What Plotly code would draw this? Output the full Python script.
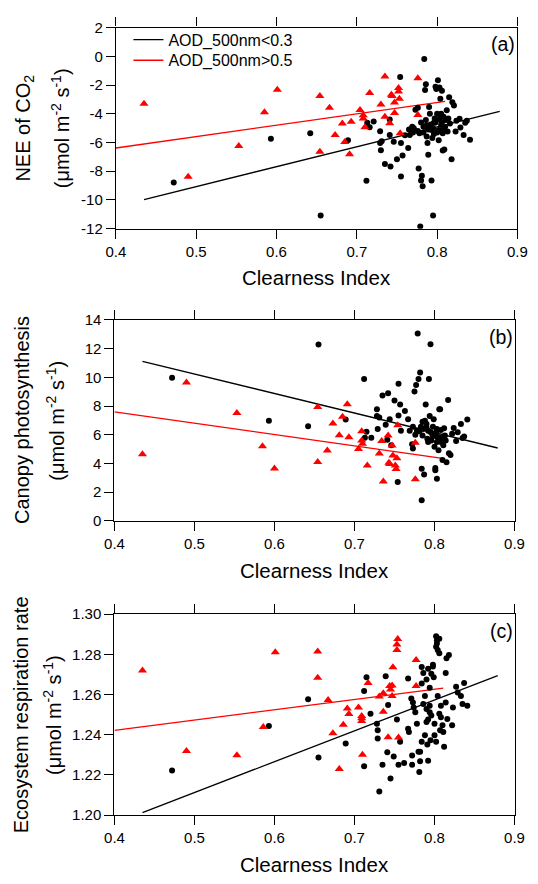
import plotly.graph_objects as go

# ---------------- data ----------------
# Panel (a) NEE of CO2
a_blk_x = [0.472, 0.593, 0.642, 0.655, 0.689, 0.712, 0.713, 0.716, 0.721, 0.729,
           0.730, 0.731, 0.729, 0.735, 0.741, 0.741, 0.742, 0.746, 0.750, 0.754,
           0.755, 0.755, 0.757, 0.760, 0.764, 0.766, 0.769, 0.771, 0.773, 0.776,
           0.777, 0.778, 0.779, 0.780, 0.781, 0.782, 0.783, 0.784, 0.785, 0.786,
           0.786, 0.787, 0.788, 0.789, 0.790, 0.790, 0.791, 0.793, 0.793, 0.794,
           0.795, 0.796, 0.797, 0.798, 0.799, 0.800, 0.801, 0.802, 0.802, 0.803,
           0.804, 0.804, 0.805, 0.806, 0.806, 0.807, 0.807, 0.808, 0.809, 0.810,
           0.811, 0.812, 0.813, 0.814, 0.815, 0.816, 0.818, 0.819, 0.821, 0.823,
           0.824, 0.828, 0.829, 0.833, 0.835, 0.837, 0.841,
           0.792, 0.795, 0.798, 0.800, 0.803, 0.787, 0.783, 0.789, 0.796, 0.805,
           0.808, 0.776, 0.780, 0.770, 0.765]
a_blk_y = [-8.79, -5.74, -5.35, -11.08, -5.85, -8.67, -4.62, -4.94, -4.53, -6.03,
           -6.53, -5.92, -5.21, -7.49, -4.40, -5.47, -7.67, -5.94, -7.17, -1.44,
           -6.03, -8.36, -6.90, -5.49, -6.38, -5.47, -4.90, -5.01, -3.71, -3.58,
           -7.81, -5.35, -11.84, -8.65, -8.31, -9.04, -4.90, -0.19, -2.35, -1.94,
           -4.44, -5.58, -6.03, -6.85, -3.53, -4.90, -3.99, -8.65, -5.12, -5.69,
           -11.08, -4.62, -4.33, -2.12, -2.28, -3.99, -1.67, -5.12, -5.85, -2.17,
           -2.96, -4.21, -4.78, -4.58, -2.39, -5.35, -6.56, -5.12, -6.49, -4.90,
           -4.44, -3.76, -5.24, -4.33, -2.85, -4.67, -7.17, -3.19, -3.42, -5.24,
           -4.49, -4.35, -4.96, -5.47, -4.62, -4.49, -5.81,
           -4.75, -5.00, -4.60, -5.30, -4.40, -4.80, -5.30, -5.10, -5.40, -4.00,
           -4.20, -5.20, -4.60, -5.30, -5.10]
a_red_x = [0.435, 0.490, 0.553, 0.585, 0.601, 0.654, 0.654, 0.666, 0.673, 0.682,
           0.685, 0.691, 0.693, 0.704, 0.708, 0.708, 0.710, 0.716, 0.730, 0.735,
           0.735, 0.741, 0.743, 0.744, 0.747, 0.747, 0.752, 0.752, 0.753, 0.754,
           0.776, 0.776]
a_red_y = [-3.30, -8.38, -6.24, -3.90, -2.32, -2.76, -6.65, -3.58, -5.47, -4.67,
           -5.97, -6.81, -4.55, -3.74, -4.10, -4.33, -4.94, -2.55, -3.35, -4.21,
           -1.41, -4.65, -2.67, -2.76, -3.21, -3.94, -2.21, -2.44, -2.96, -5.35,
           -1.53, -4.08]
a_fit_blk_x = [0.435, 0.878]
a_fit_blk_y = [-9.97, -3.83]
a_fit_red_x = [0.400, 0.810]
a_fit_red_y = [-6.38, -3.14]

# Panel (b) Canopy photosynthesis
b_blk_x = [0.472, 0.593, 0.642, 0.655, 0.689, 0.712, 0.713, 0.715, 0.721, 0.728,
           0.729, 0.728, 0.731, 0.735, 0.739, 0.741, 0.742, 0.744, 0.746, 0.750,
           0.754, 0.755, 0.755, 0.757, 0.758, 0.763, 0.767, 0.769, 0.772, 0.773,
           0.773, 0.775, 0.777, 0.779, 0.780, 0.781, 0.782, 0.783, 0.784, 0.784,
           0.785, 0.786, 0.787, 0.788, 0.789, 0.790, 0.791, 0.792, 0.793, 0.794,
           0.795, 0.796, 0.797, 0.798, 0.799, 0.800, 0.801, 0.801, 0.802, 0.803,
           0.803, 0.804, 0.805, 0.806, 0.807, 0.807, 0.808, 0.809, 0.810, 0.811,
           0.812, 0.813, 0.814, 0.815, 0.817, 0.818, 0.820, 0.822, 0.824, 0.827,
           0.829, 0.833, 0.835, 0.837, 0.841,
           0.795, 0.800, 0.805, 0.790, 0.798, 0.803, 0.785, 0.792, 0.808, 0.812,
           0.778, 0.776]
b_blk_y = [9.98, 6.97, 6.60, 12.28, 7.06, 9.88, 5.79, 6.22, 5.79, 7.77,
           6.41, 7.31, 7.20, 8.74, 6.70, 5.66, 8.90, 7.09, 5.27, 8.38,
           2.71, 9.56, 7.34, 8.11, 6.29, 7.65, 7.09, 6.29, 5.34, 6.56,
           5.05, 9.01, 9.47, 13.05, 9.88, 6.25, 10.33, 6.56, 1.45, 3.64,
           5.95, 6.41, 3.23, 6.97, 8.11, 6.75, 5.73, 6.29, 9.88, 7.31,
           12.30, 5.61, 6.07, 6.56, 7.09, 5.16, 3.53, 3.68, 6.18, 2.94,
           5.50, 5.84, 4.93, 7.77, 7.77, 5.79, 6.34, 5.61, 4.25, 5.27,
           6.45, 5.95, 5.61, 4.09, 8.42, 4.71, 4.59, 6.07, 6.47, 5.57,
           6.18, 6.75, 5.77, 5.88, 7.06,
           6.20, 6.00, 5.70, 6.50, 5.90, 6.40, 6.90, 5.50, 5.50, 5.90,
           6.30, 6.00]
b_red_x = [0.435, 0.490, 0.553, 0.585, 0.600, 0.654, 0.654, 0.666, 0.673, 0.681,
           0.685, 0.691, 0.693, 0.705, 0.709, 0.709, 0.710, 0.716, 0.731, 0.734,
           0.736, 0.742, 0.743, 0.744, 0.747, 0.748, 0.751, 0.752, 0.754, 0.753,
           0.776, 0.776]
b_red_y = [4.65, 9.64, 7.51, 5.20, 3.65, 7.94, 4.11, 4.90, 6.78, 5.97,
           7.26, 8.12, 5.83, 5.01, 6.24, 5.60, 5.38, 3.86, 4.70, 5.56,
           2.75, 5.95, 4.06, 3.97, 5.26, 4.56, 3.86, 3.61, 6.67, 4.36,
           5.45, 2.90]
b_fit_blk_x = [0.435, 0.879]
b_fit_blk_y = [11.12, 5.08]
b_fit_red_x = [0.400, 0.810]
b_fit_red_y = [7.60, 4.36]

# Panel (c) Ecosystem respiration rate
c_blk_x = [0.472, 0.593, 0.642, 0.655, 0.689, 0.712, 0.712, 0.715, 0.720, 0.728,
           0.729, 0.729, 0.731, 0.735, 0.739, 0.741, 0.742, 0.745, 0.749, 0.753,
           0.755, 0.757, 0.762, 0.767, 0.767, 0.768, 0.771, 0.772, 0.772, 0.773,
           0.774, 0.776, 0.778, 0.780, 0.781, 0.782, 0.782, 0.784, 0.784, 0.784,
           0.786, 0.786, 0.788, 0.788, 0.790, 0.790, 0.790, 0.791, 0.792, 0.792,
           0.792, 0.794, 0.794, 0.794, 0.795, 0.796, 0.796, 0.798, 0.798, 0.799,
           0.800, 0.802, 0.802, 0.802, 0.803, 0.804, 0.806, 0.806, 0.807, 0.808,
           0.810, 0.811, 0.812, 0.814, 0.814, 0.815, 0.816, 0.818, 0.822, 0.823,
           0.827, 0.829, 0.833, 0.835, 0.837, 0.841, 0.804, 0.808, 0.800, 0.806,
           0.803]
c_blk_y = [1.2222, 1.2443, 1.2577, 1.2287, 1.2356, 1.2243, 1.2618, 1.2686, 1.2504, 1.2455,
           1.2422, 1.2382, 1.2118, 1.2251, 1.2691, 1.2313, 1.2548, 1.2183, 1.2292, 1.2476,
           1.2251, 1.2365, 1.2259, 1.2680, 1.2430, 1.2414, 1.2580, 1.2297, 1.2251, 1.2561,
           1.2536, 1.2512, 1.2455, 1.2316, 1.2215, 1.2268, 1.2316, 1.2655, 1.2737, 1.2365,
           1.2707, 1.2553, 1.2398, 1.2593, 1.2528, 1.2463, 1.2675, 1.2352, 1.2476, 1.2728,
           1.2271, 1.2634, 1.2512, 1.2544, 1.2373, 1.2704, 1.2496, 1.2740, 1.2748, 1.2686,
           1.2398, 1.2365, 1.2890, 1.2838, 1.2870, 1.2821, 1.2805, 1.2504, 1.2422, 1.2487,
           1.2447, 1.2414, 1.2341, 1.2561, 1.2707, 1.2781, 1.2479, 1.2797, 1.2447, 1.2536,
           1.2639, 1.2610, 1.2593, 1.2553, 1.2658, 1.2544, 1.2593, 1.2544, 1.2455, 1.2878,
           1.2854]
c_red_x = [0.435, 0.490, 0.553, 0.586, 0.601, 0.654, 0.654, 0.667, 0.673, 0.681,
           0.686, 0.691, 0.693, 0.705, 0.709, 0.709, 0.709, 0.710, 0.717, 0.731,
           0.736, 0.736, 0.742, 0.744, 0.745, 0.747, 0.747, 0.748, 0.754, 0.753,
           0.753, 0.755, 0.777, 0.777]
c_red_y = [1.2720, 1.2319, 1.2298, 1.2438, 1.2811, 1.2814, 1.2684, 1.2573, 1.2407, 1.2230,
           1.2450, 1.2531, 1.2503, 1.2536, 1.2493, 1.2482, 1.2469, 1.2300, 1.2658, 1.2590,
           1.2606, 1.2515, 1.2388, 1.2642, 1.2625, 1.2645, 1.2593, 1.2736, 1.2876, 1.2849,
           1.2821, 1.2386, 1.2772, 1.2642]
c_fit_blk_x = [0.435, 0.879]
c_fit_blk_y = [1.2013, 1.2694]
c_fit_red_x = [0.400, 0.811]
c_fit_red_y = [1.2422, 1.2632]

x_ticks = [0.4, 0.5, 0.6, 0.7, 0.8, 0.9]
x_ticklabels = ["0.4", "0.5", "0.6", "0.7", "0.8", "0.9"]
a_yticks = [2, 0, -2, -4, -6, -8, -10, -12]
a_yticklabels = ["2", "0", "-2", "-4", "-6", "-8", "-10", "-12"]
b_yticks = [0, 2, 4, 6, 8, 10, 12, 14]
c_yticks = [1.20, 1.22, 1.24, 1.26, 1.28, 1.30]

legend_names = ["AOD_500nm<0.3", "AOD_500nm>0.5"]
x_title = "Clearness Index"
y_titles = [("NEE of CO<sub>2</sub>", "(\u03bcmol m<sup>-2</sup> s<sup>-1</sup>)"),
            ("Canopy photosynthesis", "(\u03bcmol m<sup>-2</sup> s<sup>-1</sup>)"),
            ("Ecosystem respiration rate", "(\u03bcmol m<sup>-2</sup> s<sup>-1</sup>)")]
panel_labels = ["(a)", "(b)", "(c)"]

# ---------------- layout geometry (pixels) ----------------
W, H = 538, 884
FONT = "Liberation Sans, Arial, sans-serif"
panels_px = [(110, 527, 19, 224), (108.5, 524, 317, 522), (108.5, 524, 617, 822)]
title_line_x = [(15, 52), (13, 47), (11, 44)]


def px_x(p):
    return p / W


def px_y(p):
    return 1 - p / H


fig = go.Figure()

panels = [
    (a_blk_x, a_blk_y, a_red_x, a_red_y, a_fit_blk_x, a_fit_blk_y, a_fit_red_x, a_fit_red_y,
     [-12, 2], a_yticks, a_yticklabels),
    (b_blk_x, b_blk_y, b_red_x, b_red_y, b_fit_blk_x, b_fit_blk_y, b_fit_red_x, b_fit_red_y,
     [0, 14], b_yticks, [str(v) for v in b_yticks]),
    (c_blk_x, c_blk_y, c_red_x, c_red_y, c_fit_blk_x, c_fit_blk_y, c_fit_red_x, c_fit_red_y,
     [1.20, 1.30], c_yticks, ["%.2f" % v for v in c_yticks]),
]

annotations = []
for i, (bx, by, rx, ry, fbx, fby, frx, fry, yr, ytv, ytt) in enumerate(panels):
    n = "" if i == 0 else str(i + 1)
    xa, ya = "x" + n, "y" + n
    first = i == 0
    fig.add_trace(go.Scatter(x=fbx, y=fby, mode="lines", xaxis=xa, yaxis=ya,
                             line=dict(color="black", width=1.3),
                             name=legend_names[0], showlegend=first, legend="legend"))
    fig.add_trace(go.Scatter(x=frx, y=fry, mode="lines", xaxis=xa, yaxis=ya,
                             line=dict(color="red", width=1.3),
                             name=legend_names[1], showlegend=first, legend="legend2"))
    fig.add_trace(go.Scatter(x=bx, y=by, mode="markers", xaxis=xa, yaxis=ya,
                             marker=dict(symbol="circle", size=6, color="black"),
                             showlegend=False))
    fig.add_trace(go.Scatter(x=rx, y=ry, mode="markers", xaxis=xa, yaxis=ya,
                             marker=dict(symbol="triangle-up", size=8, color="red"),
                             showlegend=False))

    l, r, t, b = panels_px[i]
    axis_common = dict(showline=True, linecolor="black", linewidth=1.3,
                       ticks="outside", ticklen=9, tickwidth=1.3, tickcolor="black",
                       showgrid=False, zeroline=False,
                       tickfont=dict(family=FONT, size=15, color="black"))
    fig.update_layout(**{
        "xaxis" + n: dict(domain=[px_x(l), px_x(r)], range=[0.4, 0.9], anchor=ya,
                          tickmode="array", tickvals=x_ticks, ticktext=x_ticklabels,
                          mirror="allticks", **axis_common),
        "yaxis" + n: dict(domain=[px_y(b), px_y(t)], range=yr, anchor=xa,
                          tickmode="array", tickvals=ytv, ticktext=ytt,
                          mirror=True, **axis_common),
    })

    ymid = px_y((t + b) / 2)
    l1, l2 = y_titles[i]
    x1, x2 = title_line_x[i]
    annotations.append(dict(text=l1, x=px_x(x1), y=ymid, xref="paper", yref="paper",
                            textangle=-90, showarrow=False, xanchor="center", yanchor="middle",
                            font=dict(family=FONT, size=20, color="black")))
    annotations.append(dict(text=l2, x=px_x(x2), y=ymid, xref="paper", yref="paper",
                            textangle=-90, showarrow=False, xanchor="center", yanchor="middle",
                            font=dict(family=FONT, size=20, color="black")))
    annotations.append(dict(text=x_title, x=px_x((l + r) / 2), y=px_y(b + 50),
                            xref="paper", yref="paper", showarrow=False,
                            xanchor="center", yanchor="middle",
                            font=dict(family=FONT, size=20.5, color="black")))
    annotations.append(dict(text=panel_labels[i], x=px_x(r), y=px_y(t + 17),
                            xref="paper", yref="paper", showarrow=False,
                            xanchor="right", yanchor="middle",
                            font=dict(family=FONT, size=19.5, color="black")))

legend_style = dict(xanchor="left", yanchor="top", bgcolor="rgba(0,0,0,0)",
                    borderwidth=0, tracegroupgap=0,
                    font=dict(family=FONT, size=16, color="black"))

fig.update_layout(
    width=W, height=H,
    margin=dict(l=0, r=0, t=0, b=0),
    paper_bgcolor="white", plot_bgcolor="white",
    annotations=annotations,
    showlegend=True,
    legend=dict(x=px_x(123), y=px_y(14), **legend_style),
    legend2=dict(x=px_x(123), y=px_y(35), **legend_style),
)

fig.write_html("out.html")
